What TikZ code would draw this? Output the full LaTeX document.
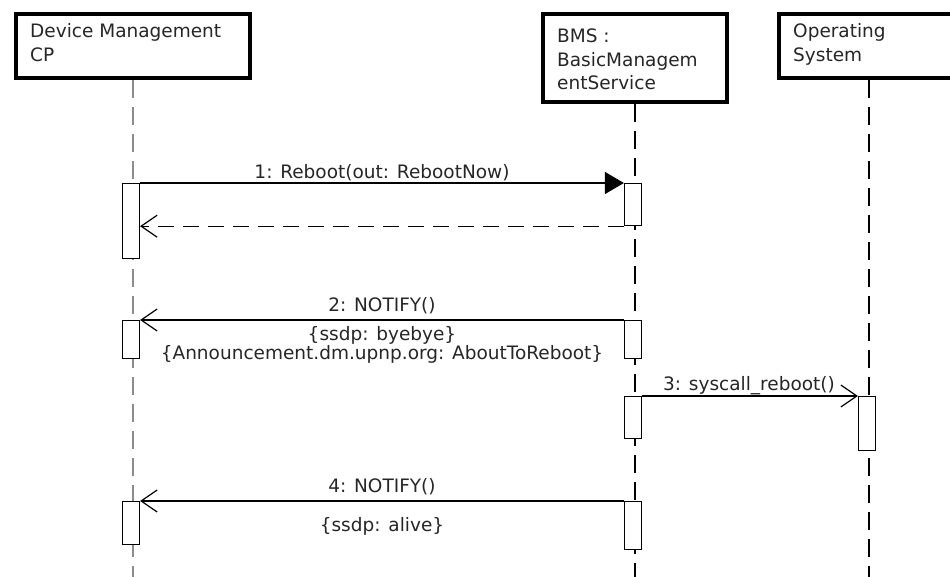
\documentclass[tikz,border=0pt]{standalone}
\usepackage{fontspec}
\setmainfont{DejaVu Sans}
\usetikzlibrary{arrows.meta}
\tikzset{
  txt/.style={font=\fontsize{18.5}{22}\selectfont, text=black!85, inner sep=0pt},
  partbox/.style={draw, line width=4pt, inner sep=0pt, anchor=north west},
  life/.style={line width=1.3pt, dash pattern=on 18pt off 9pt},
  act/.style={draw, fill=white, line width=1.2pt, minimum width=17pt, minimum height=#1, inner sep=0pt, anchor=north},
  call/.style={line width=1.2pt, -{Triangle[length=19pt,width=22pt]}},
  msg/.style={line width=1.2pt, -{Straight Barb[length=16pt,width=22pt,line width=1.2pt]}},
  ret/.style={line width=1.2pt, dash pattern=on 16pt off 9pt, -{Straight Barb[length=16pt,width=22pt,line width=1.2pt]}}
}
\begin{document}
\begin{tikzpicture}[x=1pt,y=-1pt]
\useasboundingbox (0,0) rectangle (950,577);
\coordinate (bottom) at (0,585);

% participants
\node[partbox, minimum width=234pt, minimum height=64pt] (cp) at (14,12) {};
\node[partbox, minimum width=184pt, minimum height=88pt] (bms) at (541,12) {};
\node[partbox, minimum width=180pt, minimum height=64pt] (os) at (777,12) {};

\node[txt, anchor=base west] (cpt1) at (30,38) {Device Management};
\node[txt, anchor=base west] (cpt2) at (30,62) {CP};
\node[txt, anchor=base west] (bt1) at (557,43) {BMS :};
\node[txt, anchor=base west] (bt2) at (557,67) {BasicManagem};
\node[txt, anchor=base west] (bt3) at (557,90) {entService};
\node[txt, anchor=base west] (ot1) at (793,38) {Operating};
\node[txt, anchor=base west] (ot2) at (793,62) {System};

% lifelines
\draw[life, black!45] (cp.south) -- (cp.south |- bottom);
\draw[life] (bms.south) -- (bms.south |- bottom);
\draw[life] (os.south) -- (os.south |- bottom);

% activations
\node[act=75pt] (c1) at (131,183) {};
\node[act=42pt] (b1) at (633,183) {};
\node[act=38pt] (c2) at (131,320) {};
\node[act=38pt] (b2) at (633,320) {};
\node[act=42pt] (b3) at (633,396) {};
\node[act=54pt] (o3) at (867,396) {};
\node[act=43pt] (c4) at (131,501) {};
\node[act=48pt] (b4) at (633,501) {};

% messages
\draw[call] (c1.north east) -- (b1.north west);
\draw[ret] (b1.south west) -- (b1.south west -| c1.east);
\draw[msg] (b2.north west) -- (c2.north east);
\draw[msg] (b3.north east) -- (o3.north west);
\draw[msg] (b4.north west) -- (c4.north east);

% labels
\node[txt, anchor=base] (l1) at (382,179) {1: Reboot(out: RebootNow)};
\node[txt, anchor=base] (l2) at (382,312) {2: NOTIFY()};
\node[txt, anchor=base] (l2a) at (382,340) {\{ssdp: byebye\}};
\node[txt, anchor=base] (l2b) at (382,359) {\{Announcement.dm.upnp.org: AboutToReboot\}};
\node[txt, anchor=base] (l3) at (749,390) {3: syscall\_reboot()};
\node[txt, anchor=base] (l4) at (382,492) {4: NOTIFY()};
\node[txt, anchor=base] (l4a) at (382,531) {\{ssdp: alive\}};
\end{tikzpicture}
\end{document}
